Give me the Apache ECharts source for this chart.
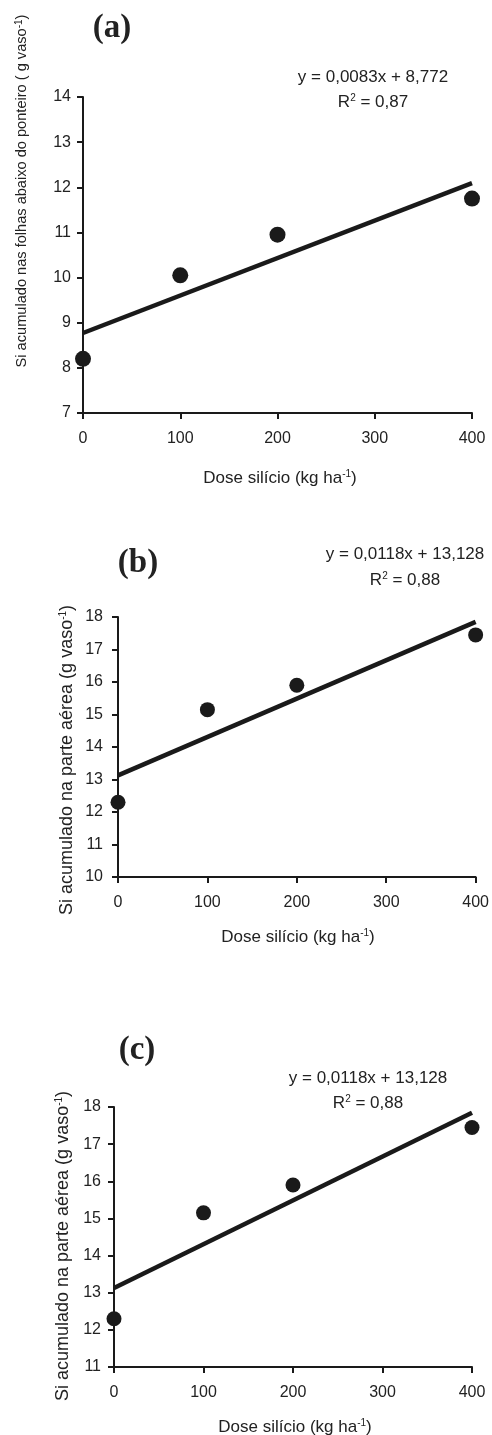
<!DOCTYPE html>
<html>
<head>
<meta charset="utf-8">
<title>Si acumulado</title>
<script src="https://cdn.jsdelivr.net/npm/echarts@6/dist/echarts.min.js"></script>
<style>
  html,body{margin:0;padding:0;background:#fff;}
  #chart{width:492px;height:1435px;}
</style>
</head>
<body>
<div id="chart"></div>
<script>
  // doses (kg ha-1)
  var doses = [0, 100, 200, 400];
  // Si acumulado
  var siA = [8.2, 10.05, 10.95, 11.75];
  var siB = [12.3, 15.15, 15.9, 17.45];
  var siC = [12.3, 15.15, 15.9, 17.45];
  // reta ajustada (x = 0 e x = 400)
  var fitX = [0, 400];
  var fitA = [8.772, 12.092];
  var fitB = [13.128, 17.848];
  var fitC = [13.128, 17.848];
  var xTicks = [0, 100, 200, 300, 400];

  var ink = '#1a1a1a';
  var sup = {fontSize: 10, verticalAlign: 'top', fill: '#222', fontFamily: 'Liberation Sans'};

  function pairs(xs, ys){
    var out = [];
    for(var i = 0; i < xs.length; i++){
      out.push([xs[i], ys[i]]);
    }
    return out;
  }

  function xAx(idx){
    return {
      gridIndex: idx, type: 'value', min: 0, max: 400, interval: 100,
      axisLine: {lineStyle: {color: ink, width: 2}},
      axisTick: {length: 6, lineStyle: {color: ink, width: 2}},
      axisLabel: {color: '#222', fontSize: 16, fontFamily: 'Liberation Sans', margin: 18,
        formatter: function(v){ return xTicks.indexOf(v) >= 0 ? String(v) : ''; }},
      splitLine: {show: false}
    };
  }
  function yAx(idx, mn, mx, mg){
    return {
      gridIndex: idx, type: 'value', min: mn, max: mx, interval: 1,
      axisLine: {onZero: false, lineStyle: {color: ink, width: 2}},
      axisTick: {length: 6, lineStyle: {color: ink, width: 2}},
      axisLabel: {color: '#222', fontSize: 16, fontFamily: 'Liberation Sans', margin: mg},
      splitLine: {show: false}
    };
  }

  function txt(x, y, str, size, extra){
    var st = {
      x: 0, y: 0, text: str, fill: '#222', align: 'center', verticalAlign: 'middle',
      font: (extra && extra.bold ? 'bold ' : '') + size + 'px ' + (extra && extra.serif ? '"Liberation Serif"' : '"Liberation Sans"'),
      rich: {s: sup}
    };
    return {type: 'text', x: x, y: y, rotation: extra && extra.rot ? Math.PI/2 : 0, style: st};
  }

  var chart = echarts.init(document.getElementById('chart'));
  var option = {
    backgroundColor: '#fff',
    animation: false,
    grid: [
      {left: 83, top: 97, width: 389, height: 316},
      {left: 118, top: 617, width: 358, height: 260},
      {left: 114, top: 1107, width: 358, height: 260}
    ],
    xAxis: [xAx(0), xAx(1), xAx(2)],
    yAxis: [yAx(0, 7, 14, 12), yAx(1, 10, 18, 15), yAx(2, 11, 18, 13)],
    series: [
      {type: 'line', xAxisIndex: 0, yAxisIndex: 0, data: pairs(fitX, fitA), showSymbol: false,
        lineStyle: {color: ink, width: 4.5}},
      {type: 'scatter', xAxisIndex: 0, yAxisIndex: 0, data: pairs(doses, siA), symbolSize: 16,
        itemStyle: {color: ink, opacity: 1}, z: 3},
      {type: 'line', xAxisIndex: 1, yAxisIndex: 1, data: pairs(fitX, fitB), showSymbol: false,
        lineStyle: {color: ink, width: 4.5}},
      {type: 'scatter', xAxisIndex: 1, yAxisIndex: 1, data: pairs(doses, siB), symbolSize: 15,
        itemStyle: {color: ink, opacity: 1}, z: 3},
      {type: 'line', xAxisIndex: 2, yAxisIndex: 2, data: pairs(fitX, fitC), showSymbol: false,
        lineStyle: {color: ink, width: 4.5}},
      {type: 'scatter', xAxisIndex: 2, yAxisIndex: 2, data: pairs(doses, siC), symbolSize: 15,
        itemStyle: {color: ink, opacity: 1}, z: 3}
    ],
    graphic: [
      // (a)
      txt(112, 28, '(a)', 33, {bold: true, serif: true}),
      txt(373, 77, 'y = 0,0083x + 8,772', 17),
      txt(373, 102, 'R{s|2} = 0,87', 17),
      txt(22, 191, 'Si acumulado nas folhas abaixo do ponteiro ( g vaso{s|-1})', 14.6, {rot: true}),
      txt(280, 478, 'Dose silício (kg ha{s|-1})', 17),
      // (b)
      txt(138, 563, '(b)', 33, {bold: true, serif: true}),
      txt(405, 554, 'y = 0,0118x + 13,128', 17),
      txt(405, 580, 'R{s|2} = 0,88', 17),
      txt(67, 760, 'Si acumulado na parte aérea (g vaso{s|-1})', 18, {rot: true}),
      txt(298, 937, 'Dose silício (kg ha{s|-1})', 17),
      // (c)
      txt(137, 1050, '(c)', 33, {bold: true, serif: true}),
      txt(368, 1078, 'y = 0,0118x + 13,128', 17),
      txt(368, 1103, 'R{s|2} = 0,88', 17),
      txt(63, 1246, 'Si acumulado na parte aérea (g vaso{s|-1})', 18, {rot: true}),
      txt(295, 1427, 'Dose silício (kg ha{s|-1})', 17)
    ]
  };
  chart.setOption(option);
</script>
</body>
</html>
